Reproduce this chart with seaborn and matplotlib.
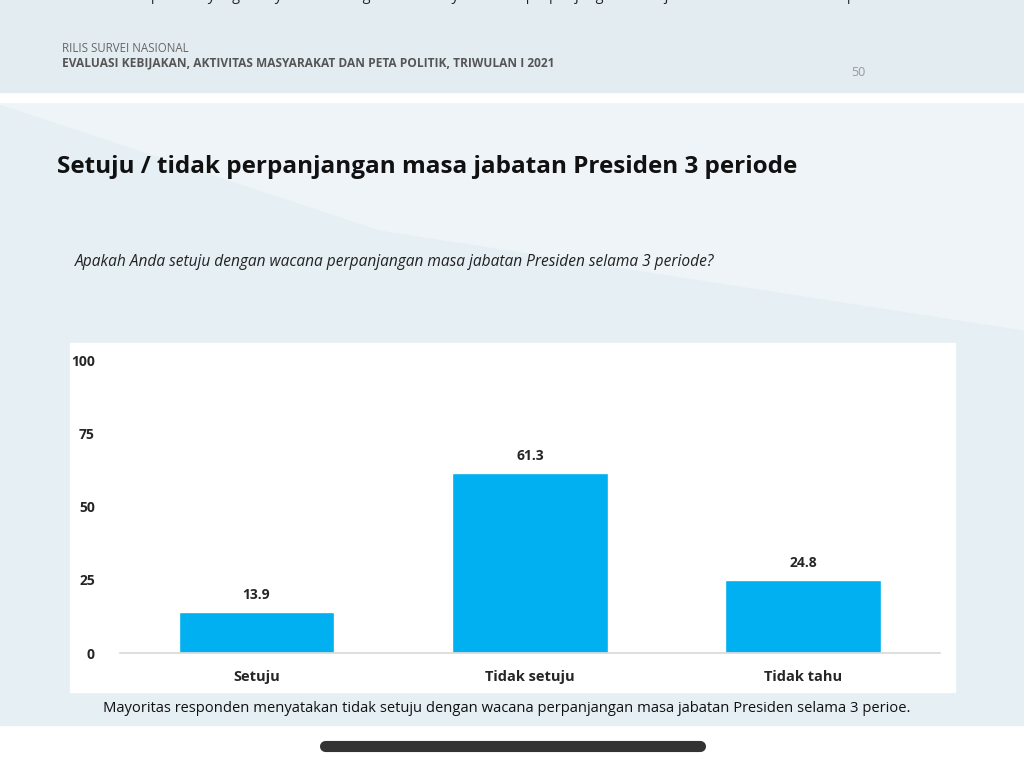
import matplotlib.pyplot as plt
import matplotlib.patches as patches
import seaborn as sns
import pandas as pd

categories = ["Setuju", "Tidak setuju", "Tidak tahu"]
values = [13.9, 61.3, 24.8]
y_ticks = [0, 25, 50, 75, 100]

sns.set_theme(style="white", font="Open Sans")
fig = plt.figure(figsize=(10.24, 7.67), dpi=100)
fig.patch.set_facecolor("white")

# background slide pieces
bg = fig.add_axes([0, 0, 1, 1])
bg.set_xlim(0, 1024)
bg.set_ylim(767, 0)
bg.axis("off")
bg.add_patch(patches.Rectangle((0, 0), 1024, 92, color="#e3ecf1"))
bg.add_patch(patches.Rectangle((0, 104), 1024, 621, color="#e6eff4"))
bg.add_patch(patches.Polygon([(0, 104), (1024, 104), (1024, 330), (380, 230)], color="#eef4f7"))
bg.add_patch(patches.Rectangle((70, 343), 885, 349, color="white"))
bg.plot([325, 700], [746, 746], color="#333333", lw=8, solid_capstyle="round")
bg.text(517, 4, "responden yang menyatakan mengetahui adanya wacana perpanjangan masa jabatan Presiden selama 3 periode.",
        ha="center", va="bottom", fontsize=10.5, color="#222222")
bg.text(62, 48, "RILIS SURVEI NASIONAL", fontsize=8.3, color="#666666", va="center")
bg.text(62, 63, "EVALUASI KEBIJAKAN, AKTIVITAS MASYARAKAT DAN PETA POLITIK, TRIWULAN I 2021",
        fontsize=8.6, color="#555555", va="center", fontweight="bold")
bg.text(858, 73, "50", fontsize=9, color="#999999", ha="center", va="center")
bg.text(57, 167, "Setuju / tidak perpanjangan masa jabatan Presiden 3 periode",
        fontsize=17.5, fontweight="bold", color="#111111", va="center")
bg.text(75, 262, "Apakah Anda setuju dengan wacana perpanjangan masa jabatan Presiden selama 3 periode?",
        fontsize=11.2, style="italic", color="#222222", va="center")
bg.text(507, 709, "Mayoritas responden menyatakan tidak setuju dengan wacana perpanjangan masa jabatan Presiden selama 3 perioe.",
        fontsize=10.6, color="#111111", ha="center", va="center")

ax = fig.add_axes([0.117, 0.1486, 0.801, 0.382])
df = pd.DataFrame({"kategori": categories, "nilai": values})
sns.barplot(data=df, x="kategori", y="nilai", color="#00b0f0", width=0.57, saturation=1, ax=ax)
ax.set_xlim(-0.5, 2.5)
ax.set_ylim(0, 100)
ax.set_yticks(y_ticks)
ax.set_yticklabels([str(t) for t in y_ticks], fontweight="bold", fontsize=10)
ax.set_xlabel("")
ax.set_ylabel("")
for lbl in ax.get_xticklabels():
    lbl.set_fontweight("bold")
    lbl.set_fontsize(10.5)
ax.tick_params(axis="y", length=0, pad=18)
ax.tick_params(axis="x", length=0, pad=12)
for s in ["top", "right", "left"]:
    ax.spines[s].set_visible(False)
ax.spines["bottom"].set_color("#d9d9d9")
ax.set_facecolor("white")
for i, v in enumerate(values):
    ax.text(i, v + 3.5, f"{v}", ha="center", va="bottom", fontweight="bold", fontsize=10)

fig.savefig("out.png", dpi=100)
